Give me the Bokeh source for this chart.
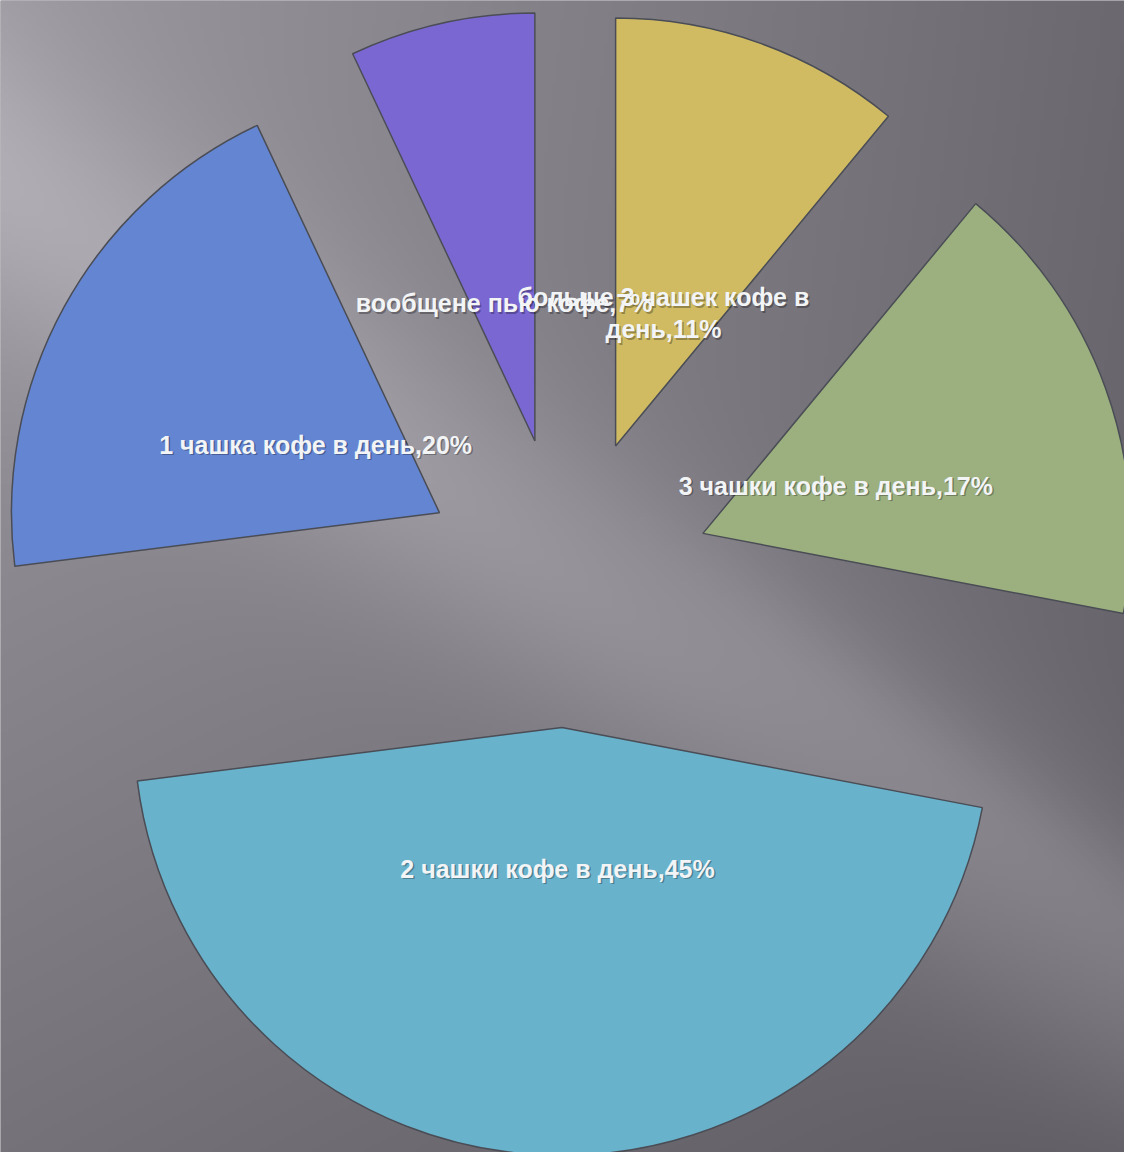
import numpy as np
from bokeh.plotting import figure
from bokeh.models import ColumnDataSource, Range1d
from bokeh.embed import file_html
from bokeh.resources import INLINE
from bokeh.core.properties import value

# ---- data ----
categories = ["больше 3 чашек кофе в\nдень", "3 чашки кофе в день", "2 чашки кофе в день",
              "1 чашка кофе в день", "вообщене пью кофе"]
percents = [11, 17, 45, 20, 7]
colors = ["#d0bb63", "#9cb07f", "#69b2cb", "#6485d1", "#7b67d1"]

# ---- layout / style ----
W, H = 1124, 1152
CX, CY = 566, 570
R = 428
EXPLODE = 145
LABEL_POS = 0.33

total = float(sum(percents))
cum = np.concatenate([[0], np.cumsum(percents)]) / total * 360.0
theta1 = cum[:-1]
theta2 = cum[1:]
mid = (theta1 + theta2) / 2
mid_r = np.radians(mid)
xs = CX + EXPLODE * np.sin(mid_r)
ys = CY + EXPLODE * np.cos(mid_r)
lx = xs + LABEL_POS * R * np.sin(mid_r)
ly = ys + LABEL_POS * R * np.cos(mid_r)
texts = [f"{c},{p}%" for c, p in zip(categories, percents)]

src = ColumnDataSource(dict(x=xs, y=ys, start=np.radians(90 - theta1),
                            end=np.radians(90 - theta2),
                            color=colors, lx=lx, ly=ly, text=texts))

p = figure(width=W, height=H, x_range=Range1d(0, W), y_range=Range1d(0, H),
           x_axis_type=None, y_axis_type=None, output_backend="svg",
           toolbar_location=None, min_border=0)
p.grid.visible = False
p.outline_line_color = None
p.background_fill_color = "#77737b"
p.border_fill_color = "#77737b"

# background gradient (decoration)
step = 4
gx = np.arange(0, W, step) + step / 2
gy = np.arange(0, H, step) + step / 2
GX, GYd = np.meshgrid(gx, gy)
SY = H - GYd  # screen y
v = (SY - 0.7 * GX - 180) / 1.22
L = 158 - 35 * (GX / W) - 0.02 * np.abs(v) + 22 * np.exp(-(v / 130) ** 2) - 25 * (SY / H)
v2 = (SY - 0.75 * GX - 60) / 1.25
L += 7 * np.exp(-(v2 / 50) ** 2) / (1 + np.exp(-(GX - 700) / 60))
r = np.clip(L, 0, 255).astype(np.uint32)
g = np.clip(L - 3, 0, 255).astype(np.uint32)
b = np.clip(L + 5, 0, 255).astype(np.uint32)
img = (np.uint32(255) << np.uint32(24)) | (b << np.uint32(16)) | (g << np.uint32(8)) | r
p.image_rgba(image=[img.astype(np.uint32)], x=0, y=0, dw=W, dh=H)

p.wedge(x="x", y="y", radius=R, start_angle="start", end_angle="end",
        direction="clock", fill_color="color",
        line_color="#4a4d55", line_width=1.5, source=src)

p.text(x="lx", y="ly", text="text", source=src, text_align="center",
       text_baseline="middle", text_color="#000000", text_alpha=0.3,
       text_font=value("Liberation Sans"), text_font_size="25px",
       text_font_style="bold", x_offset=1.5, y_offset=1.5, text_line_height=1.15)
p.text(x="lx", y="ly", text="text", source=src, text_align="center",
       text_baseline="middle", text_color="#f2f4f6",
       text_font=value("Liberation Sans"), text_font_size="25px",
       text_font_style="bold", text_line_height=1.15)

open("out.html", "w").write(file_html(p, INLINE))
